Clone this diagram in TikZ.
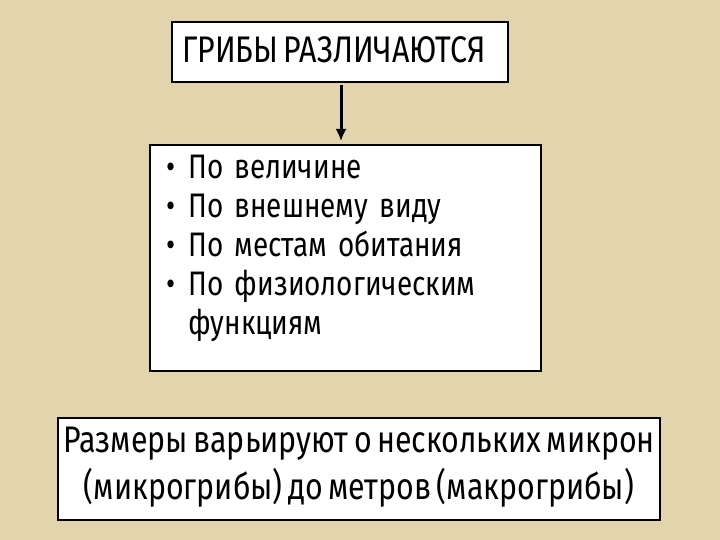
\documentclass[tikz,border=0pt]{standalone}
\usetikzlibrary{arrows.meta}
\usepackage{fontspec}
\setmainfont[FakeStretch=0.82,WordSpace=0.7]{Fira Sans}
\definecolor{bg}{RGB}{226,212,172}
\newcommand{\bul}{\makebox[22pt][l]{\textbullet}}
\newcommand{\nobul}{\makebox[22pt][l]{}}
\begin{document}
\begin{tikzpicture}[x=1pt,y=-1pt,
  box/.style={draw=black,line width=2pt,fill=white,inner sep=0pt}]
\fill[bg] (0,0) rectangle (720,540);
\useasboundingbox (0,0) rectangle (720,540);
\node[box,minimum width=336pt,minimum height=60pt] (top) at (340,52) {};
\node[anchor=west,font=\fontsize{37}{40}\selectfont,inner sep=0pt] (tt) at (182,50) {ГРИБЫ РАЗЛИЧАЮТСЯ};
\node[box,minimum width=391pt,minimum height=226pt] (mid) at (345.5,258) {};
\coordinate (a1) at (341,85);
\coordinate (a2) at (341,141);
\draw[line width=3pt,-{Latex[length=12pt,width=11pt]}] (a1) -- (a2);
\node[anchor=north west,align=left,font=\fontsize{34}{39}\selectfont,text width=370pt,inner sep=0pt] (list) at (166,155) {%
\bul По величине\\
\bul По внешнему виду\\
\bul По местам обитания\\
\bul По физиологическим\\
\nobul функциям};
\node[box,minimum width=602pt,minimum height=102pt] (bot) at (359,469) {};
\node[align=center,font=\fontsize{37}{47}\selectfont,inner sep=0pt] (bt) at (359,467) {Размеры варьируют о нескольких микрон\\(микрогрибы) до метров (макрогрибы)};
\end{tikzpicture}
\end{document}
